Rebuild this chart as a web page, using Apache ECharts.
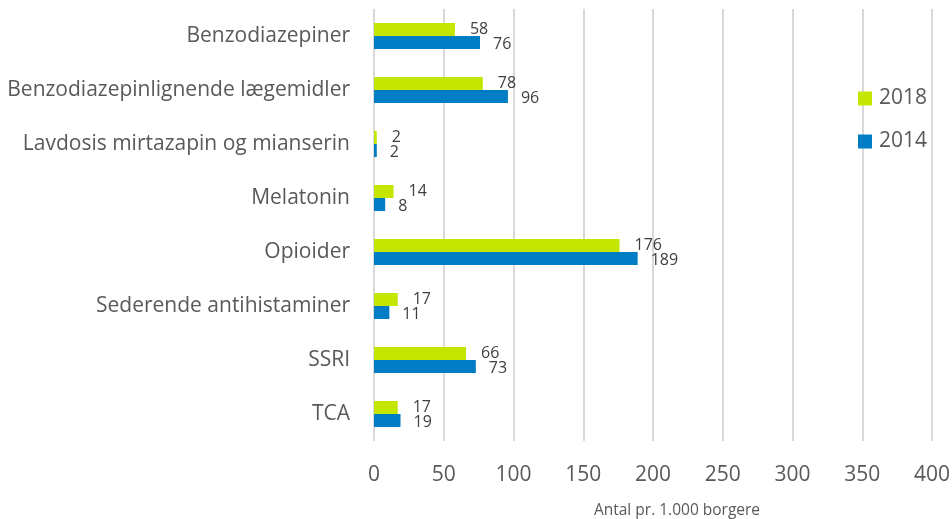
<!DOCTYPE html>
<html>
<head>
<meta charset="utf-8">
<script src="https://cdn.jsdelivr.net/npm/echarts@6/dist/echarts.min.js"></script>
<style>
  html, body { margin: 0; padding: 0; background: #fff; }
</style>
</head>
<body>
<div id="chart" style="width:952px;height:519px"></div>
<script>
var categories = ['Benzodiazepiner', 'Benzodiazepinlignende lægemidler', 'Lavdosis mirtazapin og mianserin',
  'Melatonin', 'Opioider', 'Sederende antihistaminer', 'SSRI', 'TCA']
var values2018 = [58, 78, 2, 14, 176, 17, 66, 17]
var values2014 = [76, 96, 2, 8, 189, 11, 73, 19]

var textColor = '#595959'
var font = 'Open Sans'

var chart = echarts.init(document.getElementById('chart'))
chart.setOption({
  animation: false,
  textStyle: { fontFamily: font },
  grid: {
    left: 374,
    right: 20,
    top: 9,
    bottom: 78,
    outerBoundsMode: 'none'
  },
  legend: {
    orient: 'vertical',
    left: 853,
    top: 83,
    itemWidth: 14,
    itemHeight: 14,
    itemGap: 22,
    icon: 'rect',
    textStyle: { fontSize: 21, color: textColor, fontFamily: font, padding: [0, 0, 0, 2] },
    data: ['2018', '2014']
  },
  xAxis: {
    type: 'value',
    min: 0,
    max: 400,
    interval: 50,
    name: 'Antal pr. 1.000 borgere',
    nameLocation: 'middle',
    nameGap: 62,
    nameTextStyle: { fontSize: 15.5, color: textColor, fontFamily: font, padding: [0, 0, 0, 48] },
    axisLine: { show: false },
    axisTick: { show: false },
    axisLabel: { fontSize: 21, color: textColor, margin: 24, fontFamily: font },
    splitLine: { lineStyle: { color: '#d9d9d9', width: 2 } }
  },
  yAxis: {
    type: 'category',
    inverse: true,
    data: categories,
    axisLine: { show: false },
    axisTick: { show: false },
    axisLabel: { fontSize: 21, color: textColor, margin: 24, fontFamily: font }
  },
  series: [
    {
      name: '2018',
      type: 'bar',
      data: values2018,
      barWidth: 13,
      barGap: '0%',
      itemStyle: { color: '#c4e600' },
      label: {
        show: true,
        position: 'right',
        distance: 15,
        offset: [0, 0],
        fontSize: 16,
        color: '#404040',
        fontFamily: font
      }
    },
    {
      name: '2014',
      type: 'bar',
      data: values2014,
      barWidth: 13,
      barGap: '0%',
      itemStyle: { color: '#007dc5' },
      label: {
        show: true,
        position: 'right',
        distance: 13,
        offset: [0, 1.5],
        fontSize: 16,
        color: '#404040',
        fontFamily: font
      }
    }
  ]
})
</script>
</body>
</html>
